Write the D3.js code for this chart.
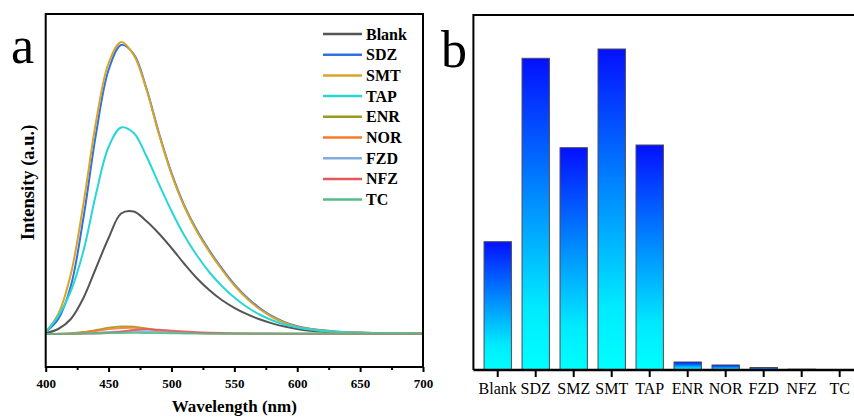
<!DOCTYPE html>
<html>
<head>
<meta charset="utf-8">
<script src="https://cdn.jsdelivr.net/npm/d3@7/dist/d3.min.js"></script>
<style>
  html, body { margin: 0; padding: 0; background: #fff; }
  svg { display: block; }
</style>
</head>
<body>
<svg id="chart" width="854" height="418"></svg>
<script>
// ---- Panel a: fluorescence emission spectra ----
const wavelengths = [400, 410, 420, 430, 440, 450, 460, 470, 480, 490, 500, 510, 520, 530, 540, 550,
                     560, 570, 580, 590, 600, 610, 620, 630, 640, 650, 660, 670, 680, 690, 700];

const blank = [10, 50, 150, 360, 660, 960, 1205, 1225, 1130, 1005, 860, 705, 560, 440, 340, 262,
               198, 147, 106, 74, 50, 33, 22, 15, 10, 8, 6, 5, 4, 4, 3];
const sdz   = [20, 150, 480, 1160, 2000, 2640, 2890, 2800, 2460, 2010, 1612, 1292, 1042, 837, 657, 497,
               366, 260, 178, 118, 78, 53, 37, 26, 19, 14, 11, 9, 8, 7, 6];
const smt   = [20, 200, 600, 1300, 2120, 2710, 2920, 2790, 2450, 2000, 1600, 1280, 1030, 825, 645, 485,
               355, 250, 170, 112, 74, 50, 35, 25, 18, 14, 11, 9, 8, 7, 6];
const tap   = [20, 180, 430, 830, 1400, 1870, 2065, 2010, 1780, 1500, 1230, 990, 790, 620, 480, 365,
               270, 195, 138, 95, 65, 45, 31, 22, 16, 12, 10, 8, 7, 6, 5];
const enr   = [0, 3, 8, 20, 40, 63, 76, 74, 56, 36, 22, 14, 9, 6, 5, 4,
               3, 3, 3, 3, 3, 3, 3, 3, 3, 3, 3, 3, 3, 3, 3];
const nor   = [0, 2, 6, 15, 30, 48, 60, 62, 50, 34, 21, 13, 8, 5, 4, 3,
               3, 3, 3, 3, 3, 3, 3, 3, 3, 3, 3, 3, 3, 3, 3];
const fzd   = [0, 1, 3, 7, 13, 20, 27, 30, 28, 22, 16, 11, 8, 6, 4, 3,
               3, 3, 3, 3, 3, 3, 3, 3, 3, 3, 3, 3, 3, 3, 3];
const nfz   = [0, 0, 1, 3, 6, 12, 24, 40, 48, 43, 34, 26, 19, 14, 10, 7,
               5, 4, 3, 2, 2, 2, 2, 2, 2, 2, 2, 2, 2, 2, 2];
const tc    = [0, 1, 2, 3, 5, 8, 10, 11, 10, 8, 6, 5, 4, 3, 3, 3,
               3, 3, 3, 3, 3, 3, 3, 3, 3, 3, 3, 3, 3, 3, 3];

const spectraNames  = ["Blank", "SDZ", "SMT", "TAP", "ENR", "NOR", "FZD", "NFZ", "TC"];
const spectraValues = [blank, sdz, smt, tap, enr, nor, fzd, nfz, tc];
const spectraColors = ["#555555", "#2f72e2", "#d9a428", "#28d6d6", "#9a9a1e", "#fa7a28", "#82acdc", "#e25a5a", "#55bb88"];

const xMajorTicks = [400, 450, 500, 550, 600, 650, 700];
const xMinorTicks = [425, 475, 525, 575, 625, 675];

// ---- Panel b: relative intensity per analyte ----
const barCategories = ["Blank", "SDZ", "SMZ", "SMT", "TAP", "ENR", "NOR", "FZD", "NFZ", "TC"];
const barValues     = [1283, 3117, 2223, 3210, 2250, 80, 50, 25, 8, 5];

const serif = "'Liberation Serif', 'Times New Roman', Times, serif";
const svg = d3.select("#chart");
svg.append("rect").attr("width", 854).attr("height", 418).attr("fill", "#fff");

// ===== Panel a =====
const ax = { left: 45.7, right: 423, top: 14, bottom: 367 };
const xA = d3.scaleLinear().domain([400, 700]).range([ax.left, ax.right]);
const yA = d3.scaleLinear().domain([-330, 3200]).range([ax.bottom, ax.top]);

const gA = svg.append("g");

const line = d3.line()
  .x(d => xA(d[0]))
  .y(d => yA(d[1]))
  .curve(d3.curveCatmullRom.alpha(0.5));

spectraValues.forEach((vals, i) => {
  gA.append("path")
    .datum(wavelengths.map((w, j) => [w, vals[j]]))
    .attr("d", line)
    .attr("fill", "none")
    .attr("stroke", spectraColors[i])
    .attr("stroke-width", i < 4 ? 2 : 1.8)
    .attr("stroke-opacity", i < 4 ? 1 : 0.9);
});

// frame
gA.append("rect")
  .attr("x", ax.left).attr("y", ax.top)
  .attr("width", ax.right - ax.left).attr("height", ax.bottom - ax.top)
  .attr("fill", "none").attr("stroke", "#000").attr("stroke-width", 2);

// bottom axis: major ticks with labels, minor ticks without
const axMajor = gA.append("g")
  .attr("transform", `translate(0,${ax.bottom})`)
  .call(d3.axisBottom(xA).tickValues(xMajorTicks).tickSize(5).tickPadding(7).tickFormat(d3.format("d")));
axMajor.select(".domain").remove();
axMajor.selectAll("line").attr("stroke", "#000").attr("stroke-width", 2);
axMajor.selectAll("text")
  .attr("font-family", serif).attr("font-weight", "bold").attr("font-size", 13).attr("fill", "#000");

const axMinor = gA.append("g")
  .attr("transform", `translate(0,${ax.bottom})`)
  .call(d3.axisBottom(xA).tickValues(xMinorTicks).tickSize(3).tickFormat(""));
axMinor.select(".domain").remove();
axMinor.selectAll("line").attr("stroke", "#000").attr("stroke-width", 2);

gA.append("text")
  .attr("x", (ax.left + ax.right) / 2).attr("y", 412)
  .attr("text-anchor", "middle")
  .attr("font-family", serif).attr("font-weight", "bold").attr("font-size", 17)
  .text("Wavelength (nm)");

gA.append("text")
  .attr("transform", "translate(33.5,182.5) rotate(-90)")
  .attr("text-anchor", "middle")
  .attr("font-family", serif).attr("font-weight", "bold").attr("font-size", 18.5)
  .text("Intensity (a.u.)");

gA.append("text")
  .attr("x", 11).attr("y", 63)
  .attr("font-family", serif).attr("font-size", 52)
  .text("a");

// legend
const legend = gA.append("g");
spectraNames.forEach((name, i) => {
  const cy = 34 + i * 20.7;
  legend.append("line")
    .attr("x1", 323).attr("x2", 362).attr("y1", cy).attr("y2", cy)
    .attr("stroke", spectraColors[i]).attr("stroke-width", 2.5);
  legend.append("text")
    .attr("x", 366).attr("y", cy + 5.5)
    .attr("font-family", serif).attr("font-weight", "bold").attr("font-size", 16)
    .text(name);
});

// ===== Panel b =====
const bx = { left: 473.4, top: 15, bottom: 370 };
const xB = d3.scaleBand().domain(barCategories).range([bx.left, 864]).padding(0.28);
const yB = d3.scaleLinear().domain([0, 3550]).range([bx.bottom, bx.top]);

const defs = svg.append("defs");
const grad = defs.append("linearGradient")
  .attr("id", "barGrad").attr("x1", 0).attr("y1", 0).attr("x2", 0).attr("y2", 1);
grad.append("stop").attr("offset", "0%").attr("stop-color", "#0410ff");
grad.append("stop").attr("offset", "45%").attr("stop-color", "#008cff");
grad.append("stop").attr("offset", "80%").attr("stop-color", "#00eaff");
grad.append("stop").attr("offset", "100%").attr("stop-color", "#00ffff");

const gB = svg.append("g");
gB.selectAll("rect.bar")
  .data(barCategories)
  .join("rect")
  .attr("class", "bar")
  .attr("x", d => xB(d))
  .attr("width", xB.bandwidth())
  .attr("y", (d, i) => yB(barValues[i]))
  .attr("height", (d, i) => yB(0) - yB(barValues[i]))
  .attr("fill", "url(#barGrad)")
  .attr("stroke", "#4a4a5a").attr("stroke-width", 1);

// frame lines (left and top)
gB.append("path")
  .attr("d", `M${bx.left},${bx.bottom}V${bx.top}H856`)
  .attr("fill", "none").attr("stroke", "#000").attr("stroke-width", 2);

const axB = gB.append("g")
  .attr("transform", `translate(0,${bx.bottom})`)
  .call(d3.axisBottom(xB).tickSize(7).tickPadding(6).tickSizeOuter(0));
axB.select(".domain").attr("stroke", "#000").attr("stroke-width", 2.5)
  .attr("d", `M${bx.left},0H856`);
axB.selectAll("line").attr("stroke", "#000").attr("stroke-width", 2);
axB.selectAll("text")
  .attr("font-family", serif).attr("font-size", 16).attr("fill", "#000");

gB.append("text")
  .attr("x", 441).attr("y", 67)
  .attr("font-family", serif).attr("font-size", 52)
  .text("b");
</script>
</body>
</html>
